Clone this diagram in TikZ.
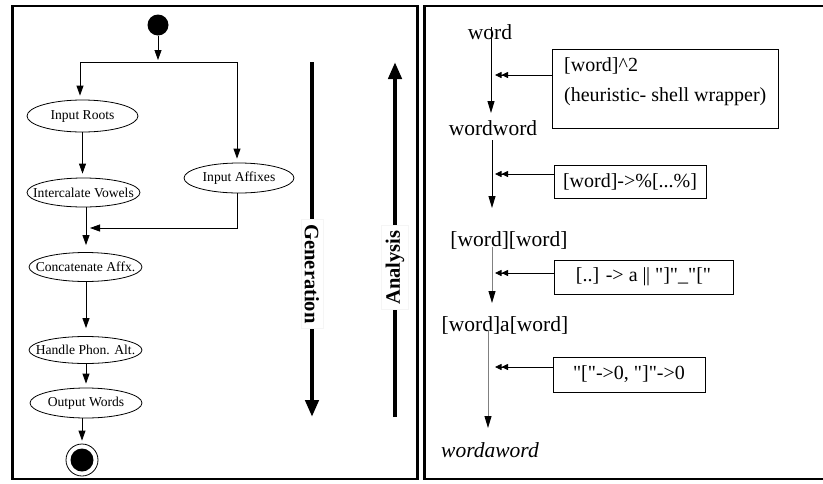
\documentclass[tikz,border=0pt]{standalone}
\usepackage{fontspec}
\setmainfont{Liberation Serif}
\usetikzlibrary{shapes.geometric,arrows.meta}
\begin{document}
\begin{tikzpicture}[x=1pt,y=-1pt,
  frame/.style={line width=2.5pt},
  act/.style={ellipse,draw,line width=0.8pt,inner sep=0pt,label={[font=\fontsize{13.6}{16}\selectfont]center:#1}},
  flow/.style={line width=0.8pt,-{Triangle[width=7pt,length=10pt]},shorten >=4pt},
  plain/.style={line width=0.8pt},
  big/.style={line width=4.5pt,-{Triangle[width=13pt,length=17pt]}},
  vlabel/.style={fill=white,draw=black!4,font=\fontsize{20.5}{24}\selectfont\bfseries,inner xsep=5pt,inner ysep=4pt},
  wd/.style={font=\fontsize{21.5}{25}\selectfont,inner sep=0pt},
  rule/.style={draw,line width=0.8pt,inner sep=0pt},
  rt/.style={font=\fontsize{20}{24}\selectfont,inner sep=0pt},
  down/.style={line width=0.9pt,-{Triangle[width=7pt,length=12pt]}},
  downg/.style={line width=0.9pt,draw=black!50,-{Triangle[width=7pt,length=12pt,color=black]}},
  dbl/.style={line width=0.8pt,-{Triangle[width=6pt,length=6.5pt]Triangle[width=6pt,length=6.5pt]}}
]
\useasboundingbox (0,0) rectangle (823,483);
\clip (0,0) rectangle (823,483);

% frames
\draw[frame] (12.5,6) rectangle (417.5,479);
\draw[frame] (424.5,6) rectangle (840,479);

% ---------- left panel ----------
\node[circle,fill,inner sep=0pt,minimum size=21pt] (start) at (158,25) {};
\coordinate (fork) at (158,62);
\coordinate (fl) at (80,62);
\coordinate (fr) at (237,62);
\node[act={Input Roots},minimum width=111pt,minimum height=32pt] (roots) at (82.5,116) {};
\node[act={Intercalate Vowels},minimum width=113pt,minimum height=29pt] (vow) at (83.5,192.5) {};
\node[act={Input Affixes},minimum width=110pt,minimum height=30pt] (aff) at (239,178) {};
\node[act={Concatenate Affx.},minimum width=113pt,minimum height=29pt] (cat) at (85.5,267) {};
\node[act={Handle Phon. Alt.},minimum width=113pt,minimum height=27pt] (pho) at (85.5,350) {};
\node[act={Output Words},minimum width=112pt,minimum height=30pt] (out) at (86,403) {};
\node[circle,draw,line width=0.8pt,minimum size=32pt,inner sep=0pt] (end) at (82,460) {};
\node[circle,fill,minimum size=23pt,inner sep=0pt] (endin) at (end.center) {};
\coordinate (join) at (86,228);

\draw[flow,shorten >=2pt] (start) -- (fork);
\draw[plain] (fl) -- (fr);
\draw[flow] (fl) -- (fl |- roots.north);
\draw[flow] (fr) -- (fr |- aff.north);
\draw[flow] (roots.south) -- (roots.south |- vow.north);
\draw[flow] (aff.south -| fr) |- (join);
\draw[flow,shorten >=7pt] (vow.south -| join) -- (cat.north -| join);
\draw[flow,shorten >=8pt] (cat.south -| join) -- (pho.north -| join);
\draw[flow] (pho.south -| join) -- (out.north -| join);
\draw[flow,shorten >=3pt] (end.north |- out.south) -- (end.north);

% generation / analysis
\coordinate (gtop) at (312,62);
\coordinate (gbot) at (312,417);
\draw[big] (gtop) -- (gbot);
\node[vlabel,rotate=-90] (gen) at (312,274) {Generation};
\coordinate (atop) at (395,62);
\coordinate (abot) at (395,417);
\draw[big] (abot) -- (atop);
\node[vlabel,rotate=90] (ana) at (395,267.5) {Analysis};

% ---------- right panel ----------
\node[wd] (w1) at (490,32) {word};
\node[wd] (w2) at (493,128) {wordword};
\node[wd] (w3) at (509,240) {[word][word]};
\node[wd] (w4) at (505,325) {[word]a[word]};
\node[wd,font=\fontsize{21.5}{25}\selectfont\itshape] (w5) at (490,450) {wordaword};

\coordinate (d1a) at (491,27);  \coordinate (d1b) at (491,113);
\coordinate (d2a) at (492,140); \coordinate (d2b) at (492,208);
\coordinate (d3a) at (492,247); \coordinate (d3b) at (492,303);
\coordinate (d4a) at (488,330); \coordinate (d4b) at (488,428);
\draw[down] (d1a) -- (d1b);
\draw[down] (d2a) -- (d2b);
\draw[downg] (d3a) -- (d3b);
\draw[downg] (d4a) -- (d4b);

\node[rule,minimum width=226pt,minimum height=79pt] (b1) at (665,88.5) {};
\node[rt,anchor=west] (b1a) at (564,66) {[word]\textasciicircum 2};
\node[rt,anchor=west] (b1b) at (564,97) {(heuristic- shell wrapper)};
\node[rule,rt,minimum width=152pt,minimum height=33pt] (b2) at (630,181.5) {[word]->\%[...\%]};
\node[rule,rt,minimum width=179pt,minimum height=34pt] (b3) at (643.5,277) {[..] -> a |\kern-0.5pt| \textquotedbl]\textquotedbl\_\textquotedbl[\textquotedbl};
\node[rule,rt,minimum width=152pt,minimum height=35pt] (b4) at (629,374.5) {\textquotedbl[\textquotedbl->0, \textquotedbl]\textquotedbl->0};

\coordinate (a1) at (495,75);
\coordinate (a2) at (495,174);
\coordinate (a3) at (495,273);
\coordinate (a4) at (495,367);
\draw[dbl] (b1.west |- a1) -- (a1);
\draw[dbl] (b2.west |- a2) -- (a2);
\draw[dbl] (b3.west |- a3) -- (a3);
\draw[dbl] (b4.west |- a4) -- (a4);
\end{tikzpicture}
\end{document}
